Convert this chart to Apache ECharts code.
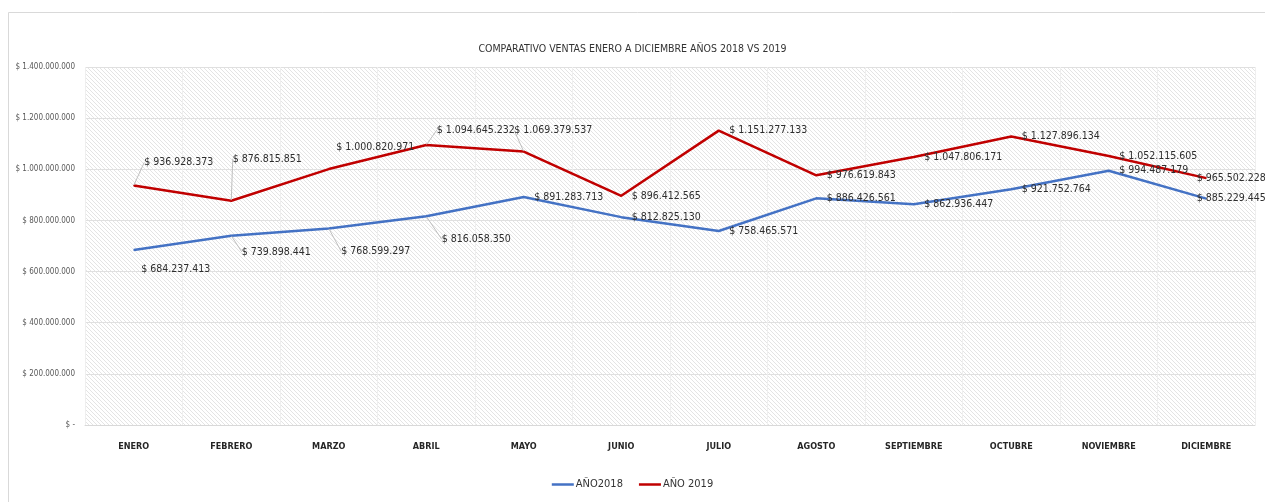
<!DOCTYPE html>
<html>
<head>
<meta charset="utf-8">
<title>Comparativo ventas 2018 vs 2019</title>
<script src="https://cdn.jsdelivr.net/npm/echarts@6/dist/echarts.min.js"></script>
<style>
  html, body { margin: 0; padding: 0; background: #fff; }
  #chart { width: 1265px; height: 502px; }
</style>
</head>
<body>
<div id="chart"></div>
<script>
// Meses del año
const meses = ['ENERO', 'FEBRERO', 'MARZO', 'ABRIL', 'MAYO', 'JUNIO', 'JULIO',
  'AGOSTO', 'SEPTIEMBRE', 'OCTUBRE', 'NOVIEMBRE', 'DICIEMBRE'];

// Ventas mensuales en pesos
const ventas2018 = [684237413, 739898441, 768599297, 816058350, 891283713, 812825130,
  758465571, 886426561, 862936447, 921752764, 994487179, 885229445];
const ventas2019 = [936928373, 876815851, 1000820971, 1094645232, 1069379537, 896412565,
  1151277133, 976619843, 1047806171, 1127896134, 1052115605, 965502228];

const nombre2018 = 'AÑO2018';
const nombre2019 = 'AÑO 2019';

const FONT = "'DejaVu Sans Condensed', 'Liberation Sans', sans-serif";

// Formato moneda con separador de miles "."
function pesos(v) {
  if (v === 0) return '$ -';
  return '$ ' + String(Math.round(v)).replace(/\B(?=(\d{3})+(?!\d))/g, '.');
}

// Desplazamiento manual de algunas etiquetas (dx, dy) y cuáles llevan línea guía
const ajuste2019 = { 0: [0, -23], 1: [-9, -42], 2: [-3, -22], 3: [0, -15], 4: [-20, -21], 11: [-20, 0] };
const guia2019 = [0, 1, 3, 4];
const ajuste2018 = { 0: [-3, 19], 1: [0, 16], 2: [2, 23], 3: [5, 23], 11: [-20, 0] };
const guia2018 = [1, 2, 3];

// Trama diagonal fina para el fondo del área de trazado
function trama() {
  const c = document.createElement('canvas');
  c.width = 4; c.height = 4;
  const g = c.getContext('2d');
  g.fillStyle = '#ffffff';
  g.fillRect(0, 0, 4, 4);
  g.strokeStyle = '#e4e4e4';
  g.lineWidth = 1;
  g.beginPath();
  g.moveTo(-1, -1); g.lineTo(5, 5);
  g.moveTo(-1, 3); g.lineTo(1, 5);
  g.moveTo(3, -1); g.lineTo(5, 1);
  g.stroke();
  return { image: c, repeat: 'repeat' };
}

function puntos(valores, guias) {
  return valores.map((v, i) => ({
    value: v,
    labelLine: { show: guias.indexOf(i) >= 0 }
  }));
}

function serie(nombre, valores, color, ajuste, guias) {
  return {
    name: nombre,
    type: 'line',
    data: puntos(valores, guias),
    symbol: 'circle',
    symbolSize: 1,
    showSymbol: true,
    itemStyle: { color: color },
    lineStyle: { color: color, width: 2.5 },
    emphasis: { disabled: true },
    animation: false,
    label: {
      show: true,
      position: 'right',
      distance: 10,
      formatter: p => pesos(p.value),
      fontFamily: FONT,
      fontSize: 10.5,
      color: '#2e2e2e'
    },
    labelLine: {
      show: false,
      smooth: false,
      lineStyle: { color: '#bfbfbf', width: 1 }
    },
    labelLayout: function (p) {
      const a = ajuste[p.dataIndex];
      return a ? { dx: a[0], dy: a[1] } : {};
    }
  };
}

const chart = echarts.init(document.getElementById('chart'), null, { renderer: 'canvas' });

chart.setOption({
  backgroundColor: '#ffffff',
  animation: false,
  textStyle: { fontFamily: FONT },
  title: {
    text: 'COMPARATIVO VENTAS ENERO A DICIEMBRE AÑOS 2018 VS 2019',
    left: 'center',
    top: 39,
    textStyle: { fontFamily: FONT, fontSize: 10.5, fontWeight: 'normal', color: '#333333' }
  },
  graphic: [{
    type: 'rect',
    left: 6, top: 10,
    shape: { x: 0, y: 0, width: 1300, height: 600 },
    style: { fill: 'none', stroke: '#d9d9d9', lineWidth: 1 },
    silent: true,
    z: -10
  }],
  legend: {
    data: [nombre2018, nombre2019],
    bottom: 7,
    left: 'center',
    icon: 'rect',
    itemWidth: 22,
    itemHeight: 2.5,
    itemGap: 16,
    textStyle: { fontFamily: FONT, fontSize: 11, color: '#333333', padding: [0, 0, 0, -3] }
  },
  grid: {
    left: 85, right: 10, top: 67, bottom: 77,
    outerBoundsMode: 'none',
    show: true,
    borderWidth: 0,
    backgroundColor: trama()
  },
  xAxis: {
    type: 'category',
    data: meses,
    boundaryGap: true,
    axisLine: { lineStyle: { color: '#d9d9d9', width: 1 } },
    axisTick: { show: false },
    splitLine: { show: true, lineStyle: { color: '#efefef', width: 1 } },
    axisLabel: {
      fontFamily: FONT, fontSize: 9, fontWeight: 'bold', color: '#262626',
      margin: 17, interval: 0
    }
  },
  yAxis: {
    type: 'value',
    min: 0, max: 1400000000, interval: 200000000,
    axisLine: { show: false },
    axisTick: { show: false },
    splitLine: { lineStyle: { color: '#e0e0e0', width: 1 } },
    axisLabel: {
      fontFamily: FONT, fontSize: 8, color: '#595959', margin: 10,
      formatter: v => pesos(v)
    }
  },
  series: [
    serie(nombre2018, ventas2018, '#4472C4', ajuste2018, guia2018),
    serie(nombre2019, ventas2019, '#C00000', ajuste2019, guia2019)
  ]
});
</script>
</body>
</html>
